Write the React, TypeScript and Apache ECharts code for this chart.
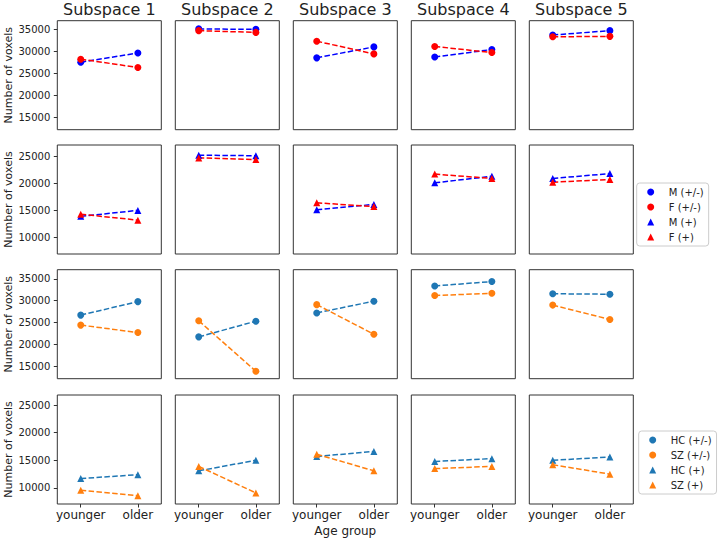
import React, { useEffect, useRef } from "react";
import * as echarts from "echarts";

const subspaces = ["Subspace 1", "Subspace 2", "Subspace 3", "Subspace 4", "Subspace 5"];
const ageGroups = ["younger", "older"];

// values per subspace: [younger, older]
const maleAll = [[27500, 29600], [35100, 35000], [28500, 31000], [28700, 30400], [33700, 34700]];
const femaleAll = [[28200, 26300], [34700, 34300], [32300, 29400], [31100, 29700], [33300, 33400]];
const malePos = [[13900, 15000], [25200, 25100], [15100, 16100], [20100, 21300], [20900, 21800]];
const femalePos = [[14300, 13200], [24700, 24400], [16400, 15700], [21700, 20900], [20200, 20700]];
const hcAll = [[26700, 29800], [21700, 25300], [27200, 29900], [33400, 34400], [31600, 31500]];
const szAll = [[24400, 22700], [25400, 13800], [29100, 22300], [31200, 31700], [29000, 25700]];
const hcPos = [[11700, 12400], [13100, 15000], [15700, 16600], [14800, 15300], [15000, 15600]];
const szPos = [[9600, 8600], [13900, 9100], [16100, 13100], [13500, 13900], [14200, 12500]];

const yTicksLarge = [15000, 20000, 25000, 30000, 35000];
const yTicksSmall = [10000, 15000, 20000, 25000];

const FONT = "DejaVu Sans";
const TEXT = "#222";
const BLUE = "#0000ff";
const RED = "#ff0000";
const TAB_BLUE = "#1f77b4";
const TAB_ORANGE = "#ff7f0e";

// legend triangle centred in a 26x7 icon box (tiny corner anchors keep the bounds)
const TRI_ICON =
  "path://M0 7L0 6.98L0.02 7Z M26 0L26 0.02L25.98 0Z M13 0L16.5 7L9.5 7Z";

const rowDefs = [
  {
    yMin: 12117, yMax: 36970, ticks: yTicksLarge,
    series: [
      { name: "M (+/-)", values: maleAll, color: BLUE, symbol: "circle" },
      { name: "F (+/-)", values: femaleAll, color: RED, symbol: "circle" },
    ],
  },
  {
    yMin: 6943, yMax: 27080, ticks: yTicksSmall,
    series: [
      { name: "M (+)", values: malePos, color: BLUE, symbol: "triangle" },
      { name: "F (+)", values: femalePos, color: RED, symbol: "triangle" },
    ],
  },
  {
    yMin: 12090, yMax: 37130, ticks: yTicksLarge,
    series: [
      { name: "HC (+/-)", values: hcAll, color: TAB_BLUE, symbol: "circle" },
      { name: "SZ (+/-)", values: szAll, color: TAB_ORANGE, symbol: "circle" },
    ],
  },
  {
    yMin: 7096, yMax: 26815, ticks: yTicksSmall,
    series: [
      { name: "HC (+)", values: hcPos, color: TAB_BLUE, symbol: "triangle" },
      { name: "SZ (+)", values: szPos, color: TAB_ORANGE, symbol: "triangle" },
    ],
  },
];

const rowTops = [20.7, 145, 269.7, 395];
const colLefts = [57.3, 175.3, 293.3, 411.3, 529.3];
const GW = 104;
const GH = 109;

export default function App() {
  const ref = useRef<HTMLDivElement>(null);
  useEffect(() => {
    if (!ref.current) return;
    const chart = echarts.init(ref.current, null, { renderer: "svg" });
    const grids: any[] = [];
    const xAxes: any[] = [];
    const yAxes: any[] = [];
    const series: any[] = [];
    rowDefs.forEach((row, r) => {
      subspaces.forEach((_, c) => {
        const idx = r * 5 + c;
        grids.push({
          left: colLefts[c], top: rowTops[r], width: GW, height: GH,
          show: true, borderColor: "#333", borderWidth: 1, backgroundColor: "#fff",
        });
        const bottom = r === 3;
        xAxes.push({
          type: "value", gridIndex: idx, min: -0.41, max: 1.41,
          axisLine: { show: false, onZero: false }, splitLine: { show: false },
          axisTick: { show: bottom, customValues: [0, 1], length: 3.5, lineStyle: { color: "#333" } },
          axisLabel: {
            show: bottom, customValues: [0, 1], margin: 5,
            formatter: (v: number) => ageGroups[Math.round(v)],
            fontFamily: FONT, fontSize: 12, color: TEXT,
          },
          name: bottom && c === 2 ? "Age group" : "",
          nameLocation: "middle", nameGap: 21,
          nameTextStyle: { fontFamily: FONT, fontSize: 12, color: TEXT },
        });
        const first = c === 0;
        yAxes.push({
          type: "value", gridIndex: idx, min: row.yMin, max: row.yMax,
          axisLine: { show: false, onZero: false }, splitLine: { show: false },
          axisTick: { show: first, customValues: row.ticks, length: 3.5, lineStyle: { color: "#333" } },
          axisLabel: {
            show: first, customValues: row.ticks, margin: 7,
            formatter: (v: number) => String(Math.round(v)),
            fontFamily: FONT, fontSize: 10, color: TEXT,
          },
          name: first ? "Number of voxels" : "",
          nameLocation: "middle", nameGap: 43, nameRotate: 90,
          nameTextStyle: { fontFamily: FONT, fontSize: 11, color: TEXT },
        });
        row.series.forEach((s) => {
          series.push({
            type: "line", name: s.name, xAxisIndex: idx, yAxisIndex: idx,
            data: ageGroups.map((_, i) => [i, s.values[c][i]]),
            symbol: s.symbol, symbolSize: 7, showSymbol: true,
            lineStyle: { color: s.color, width: 1.5, type: [5.5, 2.4] },
            itemStyle: { color: s.color },
            silent: true,
          });
        });
      });
    });
    const legendCommon = {
      orient: "vertical",
      itemWidth: 26, itemHeight: 7, itemGap: 5,
      borderColor: "#cccccc", borderWidth: 1, borderRadius: 3,
      padding: [4, 5, 4, 1],
      backgroundColor: "#fff",
      selectedMode: false,
      textStyle: { fontFamily: FONT, fontSize: 10, color: TEXT, lineHeight: 10 },
    };
    chart.setOption({
      animation: false,
      backgroundColor: "#fff",
      grid: grids,
      xAxis: xAxes,
      yAxis: yAxes,
      series,
      legend: [
        {
          ...legendCommon, left: 636.7, top: 183,
          data: [
            { name: "M (+/-)", icon: "circle" },
            { name: "F (+/-)", icon: "circle" },
            { name: "M (+)", icon: TRI_ICON },
            { name: "F (+)", icon: TRI_ICON },
          ],
        },
        {
          ...legendCommon, left: 638.7, top: 431,
          data: [
            { name: "HC (+/-)", icon: "circle" },
            { name: "SZ (+/-)", icon: "circle" },
            { name: "HC (+)", icon: TRI_ICON },
            { name: "SZ (+)", icon: TRI_ICON },
          ],
        },
      ],
      graphic: subspaces.map((t, c) => ({
        type: "text",
        x: colLefts[c] + GW / 2, y: 9,
        style: {
          text: t, fontFamily: FONT, fontSize: 16, fill: TEXT,
          textAlign: "center", textVerticalAlign: "middle",
        },
      })),
    });
    return () => chart.dispose();
  }, []);
  return (
    <div
      ref={ref}
      style={{ position: "fixed", left: 0, top: 0, width: 720, height: 541, background: "#fff" }}
    />
  );
}
